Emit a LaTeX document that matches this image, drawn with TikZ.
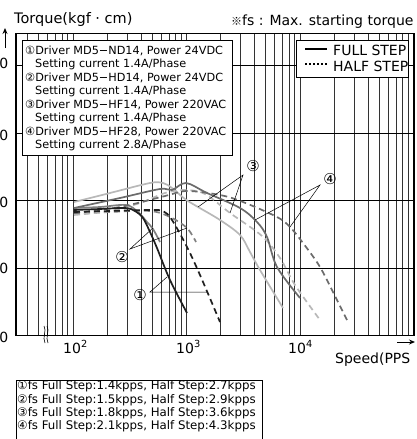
\documentclass[tikz,border=0pt]{standalone}
\usepackage{fontspec}
\setmainfont{DejaVu Sans}
\newfontfamily\cjkf{Noto Sans CJK KR}
\usetikzlibrary{arrows.meta}
\definecolor{cA}{gray}{0.12}
\definecolor{cB}{gray}{0.50}
\definecolor{cC}{gray}{0.72}
\definecolor{cD}{gray}{0.42}
\begin{document}
\begin{tikzpicture}[x=1pt,y=-1pt,
  grid/.style={line width=0.75pt,black!80},
  hgrid/.style={line width=0.8pt,black},
  frame/.style={line width=1.4pt,black},
  curve/.style={line width=1.7pt,smooth,tension=0.55},
  dcurve/.style={curve,dash pattern=on 6pt off 4pt},
  leader/.style={line width=0.5pt,black},
  boxtxt/.style={anchor=base west,inner sep=0pt,font=\fontsize{11.25}{11.25}\selectfont},
  boxtxtb/.style={anchor=base west,inner sep=0pt,font=\fontsize{11.8}{11.8}\selectfont},
  lbl/.style={inner sep=0pt,font=\fontsize{14}{14}\selectfont},
  callout/.style={inner sep=0pt,font=\fontsize{15}{15}\selectfont}]
\useasboundingbox (0,0) rectangle (416,439);
% vertical grid
\foreach \k in {4,...,9}{\pgfmathsetmacro\gx{186.5+113.5*(-2+log10(\k))}
  \draw[grid] (\gx,33.5) -- (\gx,335.5);}
\foreach \d in {2,3,4}{\foreach \k in {1,...,9}{\pgfmathsetmacro\gx{186.5+113.5*(\d-3+log10(\k))}
  \draw[grid] (\gx,33.5) -- (\gx,335.5);}}
\foreach \yy in {65.5,133,200.5,268}{\draw[hgrid] (16,\yy) -- (414,\yy);}
\draw[frame] (16,33.5) rectangle (414,335.5);
% break mark
\draw[line width=0.6pt] (44,326) .. controls (47,331) and (42,337) .. (45,343);
\draw[line width=0.6pt] (47,326) .. controls (50,331) and (45,337) .. (48,343);
% axis arrows
\coordinate (ya) at (5,48); \coordinate (yb) at (5,28);
\draw[line width=1pt,-{Stealth[length=6pt,width=5pt]}] (ya) -- (yb);
\coordinate (xa) at (397,342); \coordinate (xb) at (415,342);
\draw[line width=1pt,-{Stealth[length=6pt,width=5pt]}] (xa) -- (xb);
% curves
\draw[curve,cB] plot coordinates {(74,208) (100,207) (126,205) (138,212) (147,222) (153,229) (160,242)};
\draw[dcurve,cB] plot coordinates {(74,214) (110,212) (150,211) (170,217) (187,228) (196,242)};
\draw[curve,cC] plot coordinates {(74,202) (110,193) (150,183) (163,183) (172,188) (185,199) (198,207) (220,220) (240,235) (250,252) (260,270) (283,308)};
\draw[dcurve,cC] plot coordinates {(74,215) (110,211) (140,203) (165,193) (185,190) (205,194) (230,213) (262,236) (280,258) (295,285) (320,320)};
\draw[curve,cD] plot coordinates {(74,208) (120,198) (160,189) (172,190) (186,183) (207,193) (240,208) (257,222) (267,237) (277,267) (300,298)};
\draw[dcurve,cD] plot coordinates {(74,213) (120,207) (165,196) (187,191) (220,195) (243,202) (277,217) (290,227) (303,243) (320,267) (337,300) (347,320)};
\draw[curve,cA] plot coordinates {(74,210) (100,209) (125,208) (135,211) (143,218) (150,232) (157,248) (170,280) (187,313)};
\draw[dcurve,cA] plot coordinates {(74,212) (110,211) (150,210) (163,211) (172,220) (187,247) (200,275) (220,322)};
% callouts
\node[callout] (n1) at (140,295) {①};
\node[callout] (n2) at (122,257) {②};
\node[callout] (n3) at (253,166) {③};
\node[callout] (n4) at (330,179) {④};
\coordinate (p1a) at (167,277); \coordinate (p1b) at (207,292);
\coordinate (p2a) at (153,228); \coordinate (p2b) at (187,228);
\coordinate (p3a) at (198,207); \coordinate (p3b) at (230,213);
\coordinate (p4a) at (255,220); \coordinate (p4b) at (290,227);
\coordinate (q1) at (150,292); \coordinate (q2) at (130,249);
\coordinate (q3) at (243,175); \coordinate (q4) at (320,185);
\draw[leader] (p1a) -- (q1) -- (p1b);
\draw[leader] (p2a) -- (q2) -- (p2b);
\draw[leader] (p3a) -- (q3) -- (p3b);
\draw[leader] (p4a) -- (q4) -- (p4b);
% left legend box
\node[draw,line width=0.9pt,fill=white,anchor=north west,inner sep=0pt,minimum width=210pt,minimum height=115pt] (boxA) at (22,40) {};
\node[boxtxt] (a1) at (25,54) {①Driver MD5−ND14, Power 24VDC};
\node[boxtxt] (a2) at (35,67.5) {Setting current 1.4A/Phase};
\node[boxtxt] (a3) at (25,81) {②Driver MD5−HD14, Power 24VDC};
\node[boxtxt] (a4) at (35,94.5) {Setting current 1.4A/Phase};
\node[boxtxt] (a5) at (25,108) {③Driver MD5−HF14, Power 220VAC};
\node[boxtxt] (a6) at (35,121.5) {Setting current 1.4A/Phase};
\node[boxtxt] (a7) at (25,135) {④Driver MD5−HF28, Power 220VAC};
\node[boxtxt] (a8) at (35,148.5) {Setting current 2.8A/Phase};
% right legend box
\node[draw,line width=0.9pt,fill=white,anchor=north west,inner sep=0pt,minimum width=112pt,minimum height=37pt] (boxB) at (296,40) {};
\coordinate (s1a) at (305,49); \coordinate (s1b) at (327,49);
\coordinate (s2a) at (305,64); \coordinate (s2b) at (327,64);
\draw[line width=1.6pt,black] (s1a) -- (s1b);
\draw[line width=1.6pt,black,dash pattern=on 2pt off 2pt] (s2a) -- (s2b);
\node[lbl,anchor=base west] (fs) at (333,55) {FULL STEP};
\node[lbl,anchor=base west] (hs) at (333,71) {HALF STEP};
% titles
\node[lbl,anchor=base west,font=\fontsize{14.5}{14.5}\selectfont] (ty) at (14,23.5) {Torque(kgf · cm)};
\node[lbl,anchor=base west] (tn) at (231,25) {{\cjkf\fontsize{11}{11}\selectfont ※}fs : Max. starting torque};
\node[lbl,anchor=base west] (tx) at (335,363) {Speed(PPS};
% y labels
\node[lbl,anchor=base east] (y1) at (8.5,68) {0};
\node[lbl,anchor=base east] (y2) at (8.5,140) {0};
\node[lbl,anchor=base east] (y3) at (8.5,207) {0};
\node[lbl,anchor=base east] (y4) at (8.5,273) {0};
\node[lbl,anchor=base east] (y5) at (8.5,342) {0};
% x labels
\node[lbl,anchor=base west] (x2) at (63,353) {10\textsuperscript{2}};
\node[lbl,anchor=base west] (x3) at (176,353) {10\textsuperscript{3}};
\node[lbl,anchor=base west] (x4) at (288,353) {10\textsuperscript{4}};
% bottom box
\node[draw,line width=0.9pt,fill=white,anchor=north west,inner sep=0pt,minimum width=246pt,minimum height=70pt] (boxC) at (16,380) {};
\node[boxtxtb] (b1) at (17,389.5) {①fs Full Step:1.4kpps, Half Step:2.7kpps};
\node[boxtxtb] (b2) at (17,403) {②fs Full Step:1.5kpps, Half Step:2.9kpps};
\node[boxtxtb] (b3) at (17,416) {③fs Full Step:1.8kpps, Half Step:3.6kpps};
\node[boxtxtb] (b4) at (17,429.5) {④fs Full Step:2.1kpps, Half Step:4.3kpps};
\end{tikzpicture}
\end{document}
